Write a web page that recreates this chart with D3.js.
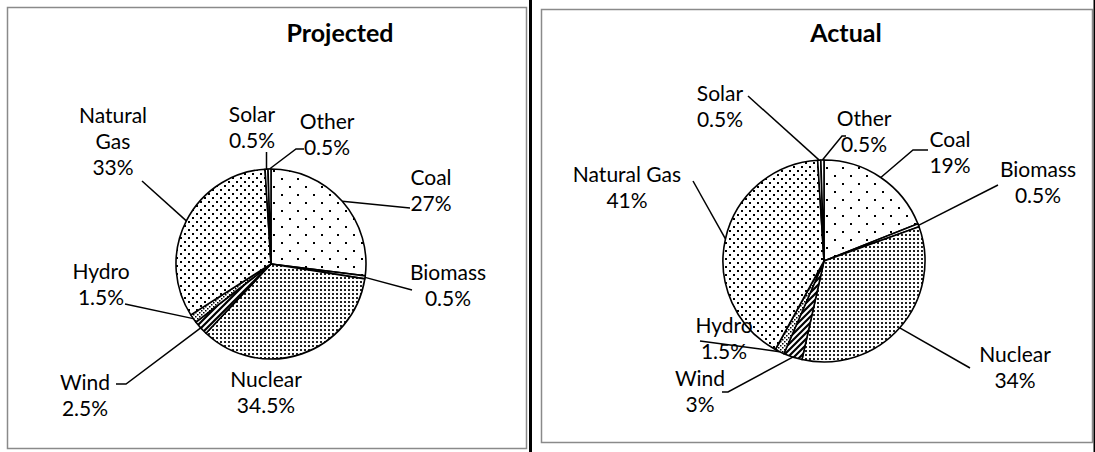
<!DOCTYPE html>
<html>
<head>
<meta charset="utf-8">
<script src="https://cdnjs.cloudflare.com/ajax/libs/d3/7.8.5/d3.min.js"></script>
<style>
  body { margin: 0; background: #fff; }
  text { font-family: Lato, "Open Sans", sans-serif; fill: #000; }
</style>
</head>
<body>
<script>
//Chart data
var categories = ["Coal", "Biomass", "Nuclear", "Wind", "Hydro", "Natural Gas", "Solar", "Other"];
var projectedValues = [27, 0.5, 34.5, 2.5, 1.5, 33, 0.5, 0.5];
var actualValues = [19, 0.5, 34, 3, 1.5, 41, 0.5, 0.5];
var chartTitles = ["Projected", "Actual"];

//Fill pattern used for each category
var patternIds = ["pat-coal", "pat-bio", "pat-nuc", "pat-wind", "pat-hydro", "pat-gas", "pat-solar", "pat-other"];

//Label placement (first baseline, text lines, leader line end points) for each chart
var projectedLayout = [
  {x: 431, y: 185, lines: ["Coal"], leader: [[410, 208]]},
  {x: 448, y: 280, lines: ["Biomass"], leader: [[412, 290]]},
  {x: 266, y: 387, lines: ["Nuclear"], leader: null},
  {x: 85, y: 390, lines: ["Wind"], leader: [[126, 384], [116, 384]]},
  {x: 101, y: 279, lines: ["Hydro"], leader: [[125, 304]]},
  {x: 113, y: 123, lines: ["Natural", "Gas"], leader: [[142, 181]]},
  {x: 252, y: 122, lines: ["Solar"], leader: [[266.5, 152]]},
  {x: 327, y: 129, lines: ["Other"], leader: [[296, 149], [304, 149]]}
];
var actualLayout = [
  {x: 950, y: 147, lines: ["Coal"], leader: [[913, 150], [928, 150]]},
  {x: 1038, y: 177, lines: ["Biomass"], leader: [[998, 185]]},
  {x: 1015, y: 362, lines: ["Nuclear"], leader: [[970, 368]]},
  {x: 700, y: 386, lines: ["Wind"], leader: [[728, 392], [722, 392]]},
  {x: 724, y: 333, lines: ["Hydro"], leader: [[700, 341]]},
  {x: 627, y: 182, lines: ["Natural Gas"], leader: [[693, 181]]},
  {x: 720, y: 101, lines: ["Solar"], leader: [[748, 96]]},
  {x: 864, y: 126, lines: ["Other"], leader: [[842, 136], [846, 136]]}
];

var width = 1095;
var height = 452;
var lineStep = 26;

var svg = d3.select('body')
    .append('svg')
    .attr('width', width)
    .attr('height', height);

//Patterns
var defs = svg.append('defs');

function dotPattern(id, size, dots, dotSize, color) {
  var p = defs.append('pattern')
      .attr('id', id)
      .attr('patternUnits', 'userSpaceOnUse')
      .attr('width', size)
      .attr('height', size);
  p.append('rect').attr('width', size).attr('height', size).attr('fill', '#fff');
  dots.forEach(function(d) {
    p.append('rect')
      .attr('x', d[0]).attr('y', d[1])
      .attr('width', dotSize).attr('height', dotSize)
      .attr('fill', color);
  });
  return p;
}

dotPattern('pat-coal', 16, [[2, 2], [10, 10]], 2, '#000');
dotPattern('pat-gas', 8, [[1, 1], [5, 5]], 2, '#000');
dotPattern('pat-nuc', 4, [[1, 1]], 2, '#222');
dotPattern('pat-bio', 4, [], 1, '#000');
dotPattern('pat-solar', 4, [], 1, '#000');
dotPattern('pat-other', 4, [], 1, '#000');
dotPattern('pat-hydro', 4, [[0, 0], [2, 2]], 1.5, '#000');

var wind = defs.append('pattern')
    .attr('id', 'pat-wind')
    .attr('patternUnits', 'userSpaceOnUse')
    .attr('width', 6)
    .attr('height', 6);
wind.append('rect').attr('width', 6).attr('height', 6).attr('fill', '#fff');
wind.append('path')
    .attr('d', 'M-1,7 L7,-1 M-2,2 L2,-2 M4,8 L8,4')
    .attr('stroke', '#000')
    .attr('stroke-width', 2.2);

//Frames
svg.append('rect')
    .attr('x', 7.5).attr('y', 7.5)
    .attr('width', 519).attr('height', 441)
    .attr('fill', 'none')
    .attr('stroke', '#8a8a8a')
    .attr('stroke-width', 1.5);
svg.append('rect')
    .attr('x', 541.5).attr('y', 9.5)
    .attr('width', 551).attr('height', 433)
    .attr('fill', 'none')
    .attr('stroke', '#8a8a8a')
    .attr('stroke-width', 1.5);
svg.append('line')
    .attr('x1', 530.5).attr('x2', 530.5)
    .attr('y1', 0).attr('y2', height)
    .attr('stroke', '#000')
    .attr('stroke-width', 3);
svg.append('line')
    .attr('x1', 1094.5).attr('x2', 1094.5)
    .attr('y1', 0).attr('y2', height)
    .attr('stroke', '#000')
    .attr('stroke-width', 2);

var pie = d3.pie().sort(null).value(function(d) { return d; });

function drawPie(values, layout, title, cx, cy, r, titleX) {
  var g = svg.append('g')
      .attr('transform', 'translate(' + cx + ',' + cy + ')');

  var arc = d3.arc().innerRadius(0).outerRadius(r);
  var slices = pie(values);

  g.selectAll('path.slice')
    .data(slices).enter()
    .append('path')
    .attr('class', 'slice')
    .attr('d', arc)
    .attr('fill', function(d, i) { return 'url(#' + patternIds[i] + ')'; })
    .attr('stroke', '#000')
    .attr('stroke-width', 1.6)
    .attr('stroke-linejoin', 'round');

  //Leader lines from the middle of each slice edge to its label
  var lineGen = d3.line();
  slices.forEach(function(d, i) {
    var lay = layout[i];
    if (!lay.leader) return;
    var a = (d.startAngle + d.endAngle) / 2;
    var pts = [[cx + r * Math.sin(a), cy - r * Math.cos(a)]].concat(lay.leader);
    svg.append('path')
      .attr('d', lineGen(pts))
      .attr('fill', 'none')
      .attr('stroke', '#000')
      .attr('stroke-width', 1.5);
  });

  //Labels
  slices.forEach(function(d, i) {
    var lay = layout[i];
    var lines = lay.lines.concat([values[i] + '%']);
    var t = svg.append('text')
      .attr('text-anchor', 'middle')
      .style('font-size', '21px');
    lines.forEach(function(s, k) {
      t.append('tspan')
        .attr('x', lay.x)
        .attr('y', lay.y + k * lineStep)
        .text(s);
    });
  });

  svg.append('text')
    .attr('x', titleX)
    .attr('y', 42)
    .attr('text-anchor', 'middle')
    .style('font-size', '25px')
    .style('font-weight', 'bold')
    .text(title);
}

drawPie(projectedValues, projectedLayout, chartTitles[0], 271, 264, 95, 340);
drawPie(actualValues, actualLayout, chartTitles[1], 824, 261, 101, 846);
</script>
</body>
</html>
